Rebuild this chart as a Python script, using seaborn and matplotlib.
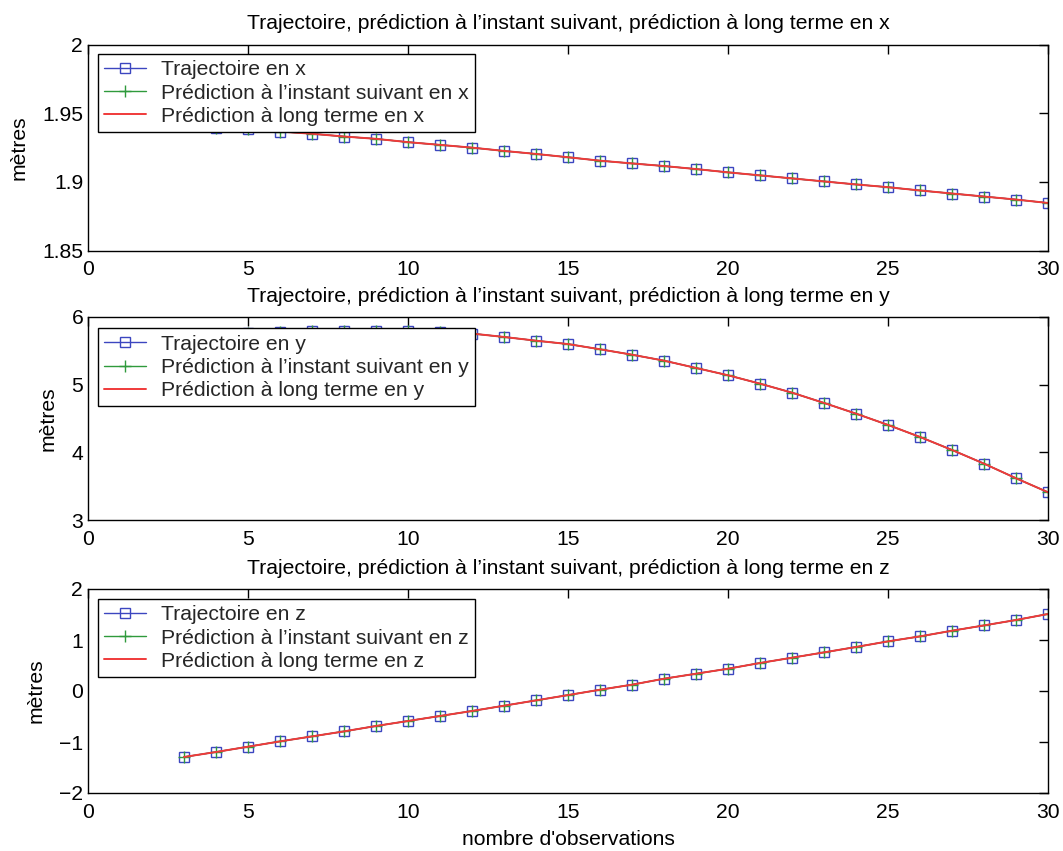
import matplotlib
matplotlib.use("Agg")
import matplotlib.pyplot as plt
from matplotlib.ticker import FuncFormatter
import seaborn as sns

# ---------------- data ----------------
observations = list(range(3, 31))

traj_x = [1.9405, 1.9395, 1.9382, 1.9366, 1.9350, 1.9330, 1.9313, 1.9289, 1.9269,
          1.9249, 1.9225, 1.9203, 1.9179, 1.9154, 1.9134, 1.9115, 1.9093, 1.9069,
          1.9047, 1.9025, 1.9003, 1.8981, 1.8961, 1.8937, 1.8915, 1.8893, 1.8871, 1.8846]
pred_next_x = list(traj_x)
pred_long_x = list(traj_x)

traj_y = [5.740, 5.755, 5.770, 5.780, 5.787, 5.795, 5.800, 5.797, 5.785, 5.755,
          5.705, 5.650, 5.600, 5.523, 5.443, 5.355, 5.247, 5.139, 5.015, 4.882,
          4.730, 4.572, 4.405, 4.227, 4.035, 3.833, 3.617, 3.410]
pred_next_y = list(traj_y)
pred_long_y = list(traj_y)

traj_z = [-1.294, -1.196, -1.092, -0.988, -0.890, -0.792, -0.686, -0.588, -0.490,
          -0.392, -0.288, -0.184, -0.080, 0.025, 0.124, 0.241, 0.339, 0.437, 0.549,
          0.653, 0.757, 0.863, 0.973, 1.071, 1.182, 1.286, 1.392, 1.510]
pred_next_z = list(traj_z)
pred_long_z = list(traj_z)

axes_names = ["x", "y", "z"]
series = [
    (traj_x, pred_next_x, pred_long_x),
    (traj_y, pred_next_y, pred_long_y),
    (traj_z, pred_next_z, pred_long_z),
]
y_limits = [(1.85, 2.0), (3, 6), (-2, 2)]
y_ticks = [[1.85, 1.9, 1.95, 2.0], [3, 4, 5, 6], [-2, -1, 0, 1, 2]]
x_ticks = [0, 5, 10, 15, 20, 25, 30]
title_tpl = "Trajectoire, prédiction à l’instant suivant, prédiction à long terme en {}"
legend_tpl = ["Trajectoire en {}", "Prédiction à l’instant suivant en {}",
              "Prédiction à long terme en {}"]
y_label = "mètres"
x_label = "nombre d'observations"

# ---------------- style ----------------
sns.set_theme(style="white")
plt.rcParams["font.family"] = ["Liberation Sans", "DejaVu Sans"]
plt.rcParams["axes.unicode_minus"] = True
FS = 15.2

BLUE = "#3c46c0"
GREEN = "#2f9a3c"
RED = "#f03a3a"

fig = plt.figure(figsize=(10.63, 8.51), dpi=100)
left, width = 88 / 1063, 960 / 1063
positions = [
    (left, 1 - 250.5 / 851, width, 206 / 851),
    (left, 1 - 520 / 851, width, 203 / 851),
    (left, 1 - 793 / 851, width, 204 / 851),
]
legend_tops = [0.954, 0.944, 0.951]

fmt = FuncFormatter(lambda v, p: ("%g" % v).replace("-", "\u2212"))

for i, (name, (s_traj, s_next, s_long)) in enumerate(zip(axes_names, series)):
    ax = fig.add_axes(positions[i])
    sns.lineplot(x=observations, y=s_traj, ax=ax, color=BLUE, lw=1.0,
                 marker="s", markersize=7.5, markerfacecolor="none",
                 markeredgecolor=BLUE, markeredgewidth=1.0,
                 label=legend_tpl[0].format(name), sort=False)
    sns.lineplot(x=observations, y=s_next, ax=ax, color=GREEN, lw=1.0,
                 marker="+", markersize=8, markeredgecolor=GREEN,
                 markeredgewidth=1.0,
                 label=legend_tpl[1].format(name), sort=False)
    sns.lineplot(x=observations, y=s_long, ax=ax, color=RED, lw=1.4,
                 label=legend_tpl[2].format(name), sort=False)

    ax.set_xlim(0, 30)
    ax.set_ylim(*y_limits[i])
    ax.set_xticks(x_ticks)
    ax.set_yticks(y_ticks[i])
    ax.yaxis.set_major_formatter(fmt)
    ax.xaxis.set_major_formatter(fmt)
    ax.tick_params(axis="both", direction="in", length=6.5, width=1.0,
                   colors="black", labelsize=FS, top=True, right=True)
    ax.tick_params(axis="x", pad=7)
    ax.tick_params(axis="y", pad=3.5)
    for sp in ax.spines.values():
        sp.set_visible(True)
        sp.set_color("black")
        sp.set_linewidth(1.0)
    ax.set_facecolor("white")
    ax.set_title(title_tpl.format(name), fontsize=FS, pad=11, color="black")
    ax.set_ylabel(y_label, fontsize=FS, labelpad=10, color="black")
    ax.set_xlabel("")

    leg = ax.legend(loc="upper left", bbox_to_anchor=(0.010, legend_tops[i]),
                    borderaxespad=0, fontsize=FS, frameon=True, fancybox=False,
                    framealpha=1, edgecolor="black", handlelength=2.0,
                    handletextpad=0.7, labelspacing=0.2, borderpad=0.3)
    leg.get_frame().set_linewidth(1.0)
    if i == 2:
        ax.set_xlabel(x_label, fontsize=FS, labelpad=6, color="black")

fig.savefig("out.png", dpi=100, facecolor="white")
